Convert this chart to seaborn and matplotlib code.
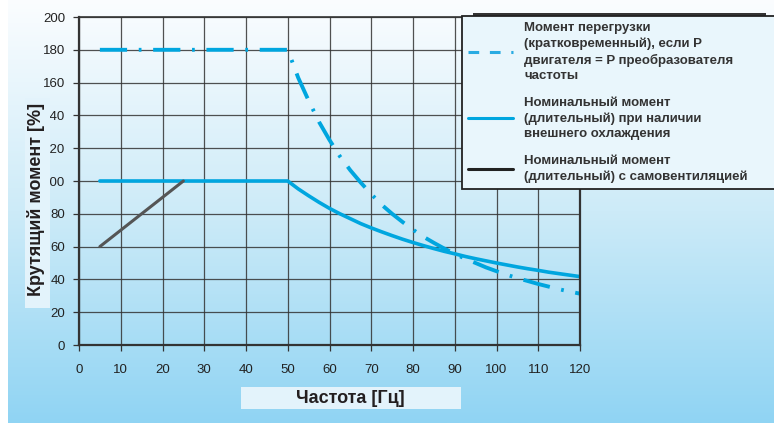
import numpy as np
import matplotlib
matplotlib.use("Agg")
import matplotlib.pyplot as plt
from matplotlib.colors import LinearSegmentedColormap
from matplotlib.lines import Line2D
from matplotlib.patches import Rectangle
import seaborn as sns

# Frequency points (Hz)
freq = [5, 50, 52.5, 55, 57.5, 60, 62.5, 65, 67.5, 70, 72.5, 75, 77.5, 80, 82.5,
        85, 87.5, 90, 92.5, 95, 97.5, 100, 102.5, 105, 107.5, 110, 112.5, 115,
        117.5, 120]
# Overload torque (short-term), %
overload = [180, 180, 163, 149, 136, 125, 115, 106.5, 99, 92, 85.5, 80, 75, 70.3,
            66, 62.3, 58.8, 55.6, 52.6, 50, 47.3, 45, 42.8, 40.8, 39, 37.2, 35.6,
            34, 32.6, 31.3]
# Nominal torque with external cooling, %
nominal_ext = [100, 100, 95.2, 91, 87, 83.3, 80, 77, 74, 71.4, 69, 66.7, 64.5, 62.5,
               60.6, 58.8, 57.1, 55.6, 54, 52.6, 51.3, 50, 48.8, 47.6, 46.5, 45.5,
               44.4, 43.5, 42.6, 41.7]
# Nominal torque with self-ventilation
selfvent_freq = [5, 25]
selfvent_torque = [60, 100]

xticks = list(range(0, 121, 10))
yticks = list(range(0, 201, 20))

legend_labels = [
    "Момент перегрузки\n(кратковременный), если P\nдвигателя = P преобразователя\nчастоты",
    "Номинальный момент\n(длительный) при наличии\nвнешнего охлаждения",
    "Номинальный момент\n(длительный) с самовентиляцией",
]

sns.set_theme(style="white")
plt.rcParams["font.family"] = ["Liberation Sans", "DejaVu Sans"]

BLUE = "#00a6df"
GRAY = "#555555"

fig = plt.figure(figsize=(7.74, 4.23), dpi=100)

# background gradient
bg = fig.add_axes([8 / 774, 0, 1 - 8 / 774, 1], zorder=-10)
cmap = LinearSegmentedColormap.from_list("bg", ["#fbfdff", "#cdebf8", "#90d4f3"])
bg.imshow(np.linspace(0, 1, 256).reshape(-1, 1), aspect="auto", cmap=cmap,
          extent=[0, 1, 0, 1], origin="upper")
bg.axis("off")

ax = fig.add_axes([79 / 774, 1 - 345 / 423, 501 / 774, 328 / 423])
ax.patch.set_alpha(0)

sns.lineplot(x=freq, y=overload, ax=ax, color=BLUE, lw=2.8,
             linestyle=(0, (7.0, 3.0, 0.7, 3.0)), sort=False, estimator=None)
sns.lineplot(x=freq, y=nominal_ext, ax=ax, color=BLUE, lw=2.6,
             sort=False, estimator=None)
sns.lineplot(x=selfvent_freq, y=selfvent_torque, ax=ax, color=GRAY, lw=2.2,
             sort=False, estimator=None, solid_capstyle="round")

ax.set_xlim(0, 120)
ax.set_ylim(0, 200)
ax.set_xticks(xticks)
ax.set_yticks(yticks)
ax.grid(True, color="#333333", lw=0.9, alpha=0.85)
ax.set_axisbelow(True)
for side in ["left", "bottom", "right"]:
    ax.spines[side].set_color("#333333")
    ax.spines[side].set_linewidth(1.6)
ax.spines["top"].set_color("#333333")
ax.spines["top"].set_linewidth(1.2)
ax.tick_params(axis="both", colors="#333333", labelsize=9.5, length=4, width=0.9,
               direction="out", bottom=True, left=True)
ax.tick_params(axis="x", pad=10, labelcolor="#222222")
ax.tick_params(axis="y", pad=6, labelcolor="#222222")
ax.set_xlabel("")
ax.set_ylabel("")

# axis label boxes
fig.patches.append(Rectangle((25 / 774, 1 - 308 / 423), 24.5 / 774, 210 / 423,
                             transform=fig.transFigure, facecolor="#e3f3fb",
                             edgecolor="none", zorder=2))
fig.text(36.5 / 774, 1 - 199 / 423, "Крутящий момент [%]", rotation=90,
         ha="center", va="center", fontsize=13, fontweight="bold",
         color="#231f20", zorder=3)
fig.patches.append(Rectangle((241 / 774, 1 - 409 / 423), 220 / 774, 22 / 423,
                             transform=fig.transFigure, facecolor="#e3f3fb",
                             edgecolor="none", zorder=2))
fig.text(350 / 774, 1 - 398 / 423, "Частота [Гц]", ha="center", va="center",
         fontsize=13, fontweight="bold", color="#231f20", zorder=3)

# legend
fig.patches.append(Rectangle((473 / 774, 1 - 16 / 423), 293 / 774, 2.5 / 423,
                             transform=fig.transFigure, facecolor="#333333",
                             edgecolor="none", zorder=4))
handles = [
    Line2D([], [], color="#29abe2", lw=2.2, linestyle=(0, (3.5, 3.5))),
    Line2D([], [], color=BLUE, lw=2.2),
    Line2D([], [], color="#222222", lw=2.2),
]
leg = fig.legend(handles, legend_labels, loc="upper left",
                 bbox_to_anchor=(462 / 774, 1 - 188 / 423, 330 / 774, 172 / 423),
                 frameon=True, fancybox=False, framealpha=1, edgecolor="#222222",
                 facecolor="#e9f6fc", prop={"size": 9.5, "weight": "bold"},
                 labelcolor="#333333", handlelength=3.4, handletextpad=0.85,
                 borderpad=0.45, borderaxespad=0, labelspacing=1.1,
                 mode="expand")
for t in leg.get_texts():
    t.set_linespacing(1.38)
leg.get_frame().set_linewidth(1.3)
leg.set_zorder(5)

fig.savefig("out.png", dpi=100)
